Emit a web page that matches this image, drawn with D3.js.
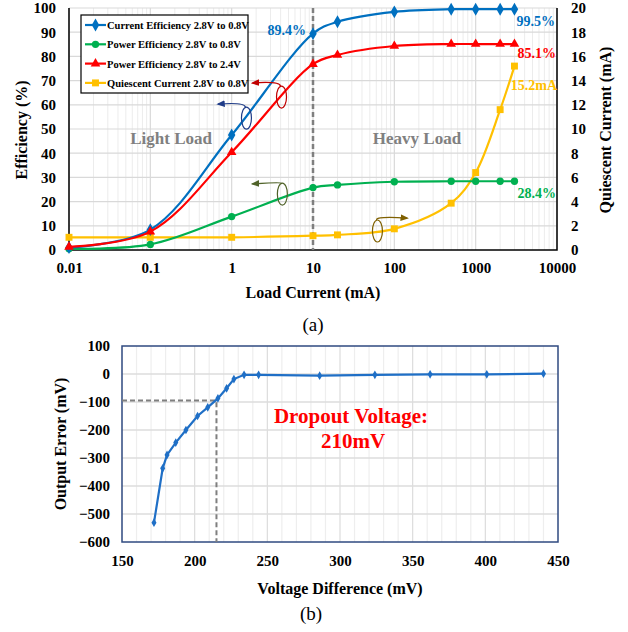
<!DOCTYPE html>
<html>
<head>
<meta charset="utf-8">
<script src="https://cdn.jsdelivr.net/npm/d3@7"></script>
<style>
body{margin:0;background:#fff;}
svg text{font-family:'Liberation Serif','Times New Roman','DejaVu Serif',serif;}
</style>
</head>
<body>
<svg id="chart" width="628" height="632"></svg>
<script>
// ---- data (a) ----
var loadCurrent = [0.01, 0.1, 1, 10, 20, 100, 500, 1000, 2000, 3000];
var currentEff  = [1.0, 8.4, 47.5, 89.4, 94.3, 98.4, 99.5, 99.5, 99.5, 99.5];
var powerEff08  = [0.5, 2.3, 13.8, 25.8, 26.9, 28.2, 28.4, 28.4, 28.4, 28.4];
var powerEff24  = [1.3, 7.6, 40.4, 76.8, 80.6, 84.3, 85.1, 85.1, 85.1, 85.1];
var quiescent   = [1.05, 1.05, 1.05, 1.18, 1.25, 1.75, 3.87, 6.4, 11.6, 15.2];
var xTicksA = [0.01, 0.1, 1, 10, 100, 1000, 10000];
var xTickLabelsA = ["0.01", "0.1", "1", "10", "100", "1000", "10000"];

// ---- data (b) ----
var voltDiff = [172, 178, 181, 187, 194, 202, 209, 216, 222, 227, 234, 244, 286, 324, 362, 401, 440];
var outErr   = [-531, -337, -289, -245, -200, -150, -119, -87, -51, -18, -3, -3, -6, -3, -1, -1, 1];

var svg = d3.select('#chart');
var FONT = "'Liberation Serif','Times New Roman','DejaVu Serif',serif";

// ================= chart (a) =================
var x = d3.scaleLog().domain([0.01, 10000]).range([69, 557]);
var yL = d3.scaleLinear().domain([0, 100]).range([250, 8]);
var yR = d3.scaleLinear().domain([0, 20]).range([250, 8]);

var gA = svg.append('g').attr('id', 'chartA');

// grid
var minorX = [];
for (var e = -2; e < 4; e++){
    for (var m = 2; m < 10; m++){ minorX.push(m*Math.pow(10, e)); }
}
gA.selectAll('.minx').data(minorX).enter().append('line')
    .attr('x1', function(d){return x(d);}).attr('x2', function(d){return x(d);})
    .attr('y1', yL(0)).attr('y2', yL(100)).attr('stroke', '#ececec').attr('stroke-width', 1);
gA.selectAll('.majx').data(xTicksA).enter().append('line')
    .attr('x1', function(d){return x(d);}).attr('x2', function(d){return x(d);})
    .attr('y1', yL(0)).attr('y2', yL(100)).attr('stroke', '#d9d9d9').attr('stroke-width', 1.2);
gA.selectAll('.majy').data(d3.range(10, 101, 10)).enter().append('line')
    .attr('x1', x(0.01)).attr('x2', x(10000))
    .attr('y1', function(d){return yL(d);}).attr('y2', function(d){return yL(d);})
    .attr('stroke', '#d9d9d9').attr('stroke-width', 1.2);

// frame
gA.append('path').attr('d', 'M'+x(0.01)+','+yL(100)+' V'+yL(0)+' H'+x(10000)+' V'+yL(100))
    .attr('fill', 'none').attr('stroke', '#000').attr('stroke-width', 1.5);

// dashed 10mA divider
gA.append('line').attr('x1', x(10)).attr('x2', x(10)).attr('y1', yL(100)).attr('y2', yL(0))
    .attr('stroke', '#7f7f7f').attr('stroke-width', 2.5).attr('stroke-dasharray', '5 3');

// axes ticks labels
var xAxisA = d3.axisBottom(x).tickValues(xTicksA).tickFormat(function(d, i){return xTickLabelsA[i];}).tickSize(0).tickPadding(12);
gA.append('g').attr('transform', 'translate(0,'+yL(0)+')').call(xAxisA)
    .call(function(g){g.select('.domain').remove();});
var yAxisL = d3.axisLeft(yL).tickValues(d3.range(0, 101, 10)).tickSize(0).tickPadding(13);
gA.append('g').attr('transform', 'translate('+x(0.01)+',0)').call(yAxisL)
    .call(function(g){g.select('.domain').remove();});
var yAxisR = d3.axisRight(yR).tickValues(d3.range(0, 21, 2)).tickSize(0).tickPadding(14);
gA.append('g').attr('transform', 'translate('+x(10000)+',0)').call(yAxisR)
    .call(function(g){g.select('.domain').remove();});
gA.selectAll('.tick text').attr('font-family', FONT).attr('font-size', '15px').attr('font-weight', 'bold').attr('fill', '#000');

// axis titles
gA.append('text').text('Load Current (mA)').attr('x', 313).attr('y', 298).attr('text-anchor', 'middle')
    .attr('font-size', '16px').attr('font-weight', 'bold');
gA.append('text').text('Efficiency (%)').attr('transform', 'translate(27,130) rotate(-90)').attr('text-anchor', 'middle')
    .attr('font-size', '16px').attr('font-weight', 'bold');
gA.append('text').text('Quiescent Current (mA)').attr('transform', 'translate(611,130) rotate(-90)').attr('text-anchor', 'middle')
    .attr('font-size', '16px').attr('font-weight', 'bold');

// regions
gA.append('text').text('Light Load').attr('x', x(0.18)).attr('y', 144).attr('text-anchor', 'middle')
    .attr('font-size', '17px').attr('font-weight', 'bold').attr('fill', '#808080');
gA.append('text').text('Heavy Load').attr('x', x(190)).attr('y', 144).attr('text-anchor', 'middle')
    .attr('font-size', '17px').attr('font-weight', 'bold').attr('fill', '#808080');

// series
var series = [
    {name: 'Current Efficiency 2.8V to 0.8V', vals: currentEff, color: '#0070c0', sym: d3.symbolDiamond, size: 48, scale: yL},
    {name: 'Power Efficiency 2.8V to 0.8V', vals: powerEff08, color: '#00b050', sym: d3.symbolCircle, size: 42, scale: yL},
    {name: 'Power Efficiency 2.8V to 2.4V', vals: powerEff24, color: '#ff0000', sym: d3.symbolTriangle, size: 40, scale: yL},
    {name: 'Quiescent Current 2.8V to 0.8V', vals: quiescent, color: '#ffc000', sym: d3.symbolSquare, size: 48, scale: yR}
];
var drawOrder = [3, 1, 0, 2];
drawOrder.forEach(function(k){
    var s = series[k];
    var pts = loadCurrent.map(function(c, i){return [c, s.vals[i]];});
    var line = d3.line().x(function(d){return x(d[0]);}).y(function(d){return s.scale(d[1]);})
        .curve(d3.curveCatmullRom.alpha(0.5));
    gA.append('path').attr('d', line(pts)).attr('fill', 'none').attr('stroke', s.color).attr('stroke-width', 2.2);
    gA.selectAll('.m'+k).data(pts).enter().append('path')
        .attr('d', d3.symbol().type(s.sym).size(s.size))
        .attr('transform', function(d){return 'translate('+x(d[0])+','+s.scale(d[1])+')';})
        .attr('fill', s.color);
});

// value callouts
var callouts = [
    {t: '89.4%', c: '#0070c0', x: 306, y: 35, a: 'end'},
    {t: '99.5%', c: '#0070c0', x: 555, y: 26, a: 'end'},
    {t: '85.1%', c: '#ff0000', x: 556, y: 58, a: 'end'},
    {t: '15.2mA', c: '#ffc000', x: 557, y: 90, a: 'end'},
    {t: '28.4%', c: '#00b050', x: 556, y: 198, a: 'end'}
];
callouts.forEach(function(o){
    gA.append('text').text(o.t).attr('x', o.x).attr('y', o.y).attr('text-anchor', o.a)
        .attr('font-size', '14px').attr('font-weight', 'bold').attr('fill', o.c);
});

// ellipse + arrow annotations (data coords)
var marks = [
    {ex: 1.52, ey: 54.5, tx: 0.68, ty: 60.3, c: '#1f3c88', sc: yL},
    {ex: 4.1, ey: 63.2, tx: 1.8, ty: 69, c: '#c00000', sc: yL},
    {ex: 4.2, ey: 23.1, tx: 1.8, ty: 27.3, c: '#4f6228', sc: yL},
    {ex: 62, ey: 1.57, tx: 144, ty: 2.64, c: '#7f6000', sc: yR}
];
var defs = svg.append('defs');
marks.forEach(function(m, i){
    defs.append('marker').attr('id', 'arr'+i).attr('viewBox', '0 0 10 10').attr('refX', 8).attr('refY', 5)
        .attr('markerWidth', 7).attr('markerHeight', 7).attr('orient', 'auto')
        .append('path').attr('d', 'M0,1 L10,5 L0,9 z').attr('fill', m.c);
    var cx = x(m.ex), cy = m.sc(m.ey), tx = x(m.tx), ty = m.sc(m.ty);
    gA.append('ellipse').attr('cx', cx).attr('cy', cy).attr('rx', 5).attr('ry', 11)
        .attr('fill', 'none').attr('stroke', m.c).attr('stroke-width', 1.2);
    gA.append('path').attr('d', 'M'+(cx-1)+','+(cy-11)+' Q'+(cx-2)+','+(ty-2)+' '+tx+','+ty)
        .attr('fill', 'none').attr('stroke', m.c).attr('stroke-width', 1.2).attr('marker-end', 'url(#arr'+i+')');
});

// legend
var lg = gA.append('g').attr('transform', 'translate(81,15)');
lg.append('rect').attr('width', 167).attr('height', 78).attr('fill', '#fff').attr('stroke', '#000').attr('stroke-width', 1.2);
series.forEach(function(s, i){
    var yy = 10 + i*19.3;
    lg.append('line').attr('x1', 4).attr('x2', 25).attr('y1', yy).attr('y2', yy).attr('stroke', s.color).attr('stroke-width', 2.2);
    lg.append('path').attr('d', d3.symbol().type(s.sym).size(s.size)).attr('transform', 'translate(14.5,'+yy+')').attr('fill', s.color);
    lg.append('text').text(s.name).attr('x', 26).attr('y', yy+4).attr('font-size', '10.5px').attr('font-weight', 'bold');
});

gA.append('text').text('(a)').attr('x', 313).attr('y', 331).attr('text-anchor', 'middle').attr('font-size', '19px');

// ================= chart (b) =================
var xb = d3.scaleLinear().domain([150, 450]).range([122, 558]);
var yb = d3.scaleLinear().domain([-600, 100]).range([542, 346]);
var gB = svg.append('g').attr('id', 'chartB');

gB.selectAll('.vg').data(d3.range(160, 450, 10)).enter().append('line')
    .attr('x1', function(d){return xb(d);}).attr('x2', function(d){return xb(d);})
    .attr('y1', yb(-600)).attr('y2', yb(100)).attr('stroke', function(d){return d%50 == 0 ? '#dcdcdc' : '#eeeeee';}).attr('stroke-width', 1.2);
gB.selectAll('.hg').data(d3.range(-500, 100, 100)).enter().append('line')
    .attr('x1', xb(150)).attr('x2', xb(450))
    .attr('y1', function(d){return yb(d);}).attr('y2', function(d){return yb(d);})
    .attr('stroke', '#dcdcdc').attr('stroke-width', 1.5);
gB.append('rect').attr('x', xb(150)).attr('y', yb(100)).attr('width', xb(450)-xb(150)).attr('height', yb(-600)-yb(100))
    .attr('fill', 'none').attr('stroke', '#2f4a80').attr('stroke-width', 1.5);

// dropout dashed guide
var dropX = 215, dropY = -95;
gB.append('path').attr('d', 'M'+xb(150)+','+yb(dropY)+' H'+xb(dropX)+' V'+yb(-600))
    .attr('fill', 'none').attr('stroke', '#7f7f7f').attr('stroke-width', 2).attr('stroke-dasharray', '5 3');

var xAxisB = d3.axisBottom(xb).tickValues(d3.range(150, 451, 50)).tickSize(0).tickPadding(13);
gB.append('g').attr('transform', 'translate(0,'+yb(-600)+')').call(xAxisB).call(function(g){g.select('.domain').remove();});
var yAxisB = d3.axisLeft(yb).tickValues(d3.range(-600, 101, 100)).tickSize(0).tickPadding(12);
gB.append('g').attr('transform', 'translate('+xb(150)+',0)').call(yAxisB).call(function(g){g.select('.domain').remove();});
gB.selectAll('.tick text').attr('font-family', FONT).attr('font-size', '15px').attr('font-weight', 'bold').attr('fill', '#000');

var lineB = d3.line().x(function(d){return xb(d[0]);}).y(function(d){return yb(d[1]);});
var ptsB = voltDiff.map(function(v, i){return [v, outErr[i]];});
gB.append('path').attr('d', lineB(ptsB)).attr('fill', 'none').attr('stroke', '#1f6fc6').attr('stroke-width', 2.2);
gB.selectAll('.mb').data(ptsB).enter().append('path')
    .attr('d', d3.symbol().type(d3.symbolDiamond).size(22))
    .attr('transform', function(d){return 'translate('+xb(d[0])+','+yb(d[1])+')';})
    .attr('fill', '#1f6fc6');

gB.append('text').text('Dropout Voltage:').attr('x', 351).attr('y', 423).attr('text-anchor', 'middle')
    .attr('font-size', '21px').attr('font-weight', 'bold').attr('fill', '#ff0000');
gB.append('text').text('210mV').attr('x', 353).attr('y', 448).attr('text-anchor', 'middle')
    .attr('font-size', '21px').attr('font-weight', 'bold').attr('fill', '#ff0000');

gB.append('text').text('Voltage Difference (mV)').attr('x', 340).attr('y', 594).attr('text-anchor', 'middle')
    .attr('font-size', '16px').attr('font-weight', 'bold');
gB.append('text').text('Output Error (mV)').attr('transform', 'translate(66,444) rotate(-90)').attr('text-anchor', 'middle')
    .attr('font-size', '16px').attr('font-weight', 'bold');
gB.append('text').text('(b)').attr('x', 311).attr('y', 620).attr('text-anchor', 'middle').attr('font-size', '19px');
</script>
</body>
</html>
